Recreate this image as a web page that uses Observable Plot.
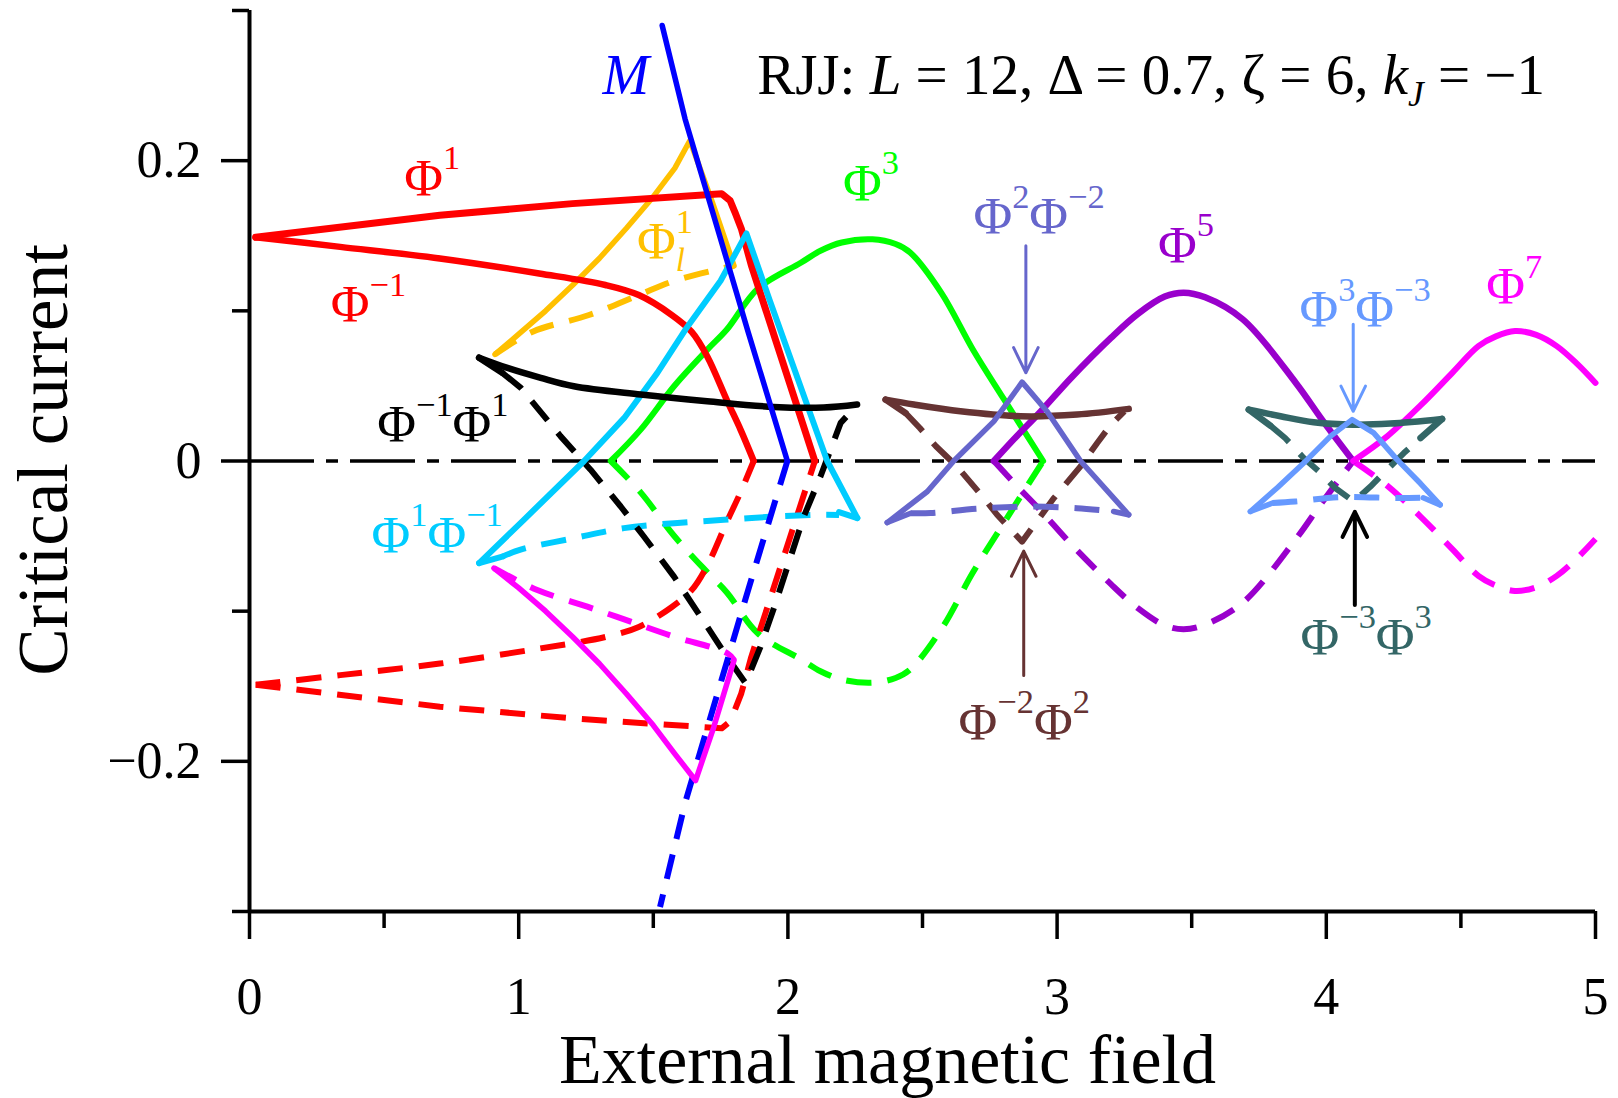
<!DOCTYPE html>
<html>
<head>
<meta charset="utf-8">
<script src="https://cdn.jsdelivr.net/npm/d3@7"></script>
<script src="https://cdn.jsdelivr.net/npm/@observablehq/plot@0.6"></script>
<style>
  html, body { margin: 0; padding: 0; background: #fff; }
  #chart svg { display: block; font-family: "Liberation Serif", "Times New Roman", serif; }
  #chart svg text { font-family: "Liberation Serif", "Times New Roman", serif; }
</style>
</head>
<body>
<div id="chart"></div>
<script>
// ---------------- data: [external field, critical current] ----------------
const phi1Solid   = [[0.023,0.149],[0.707,0.1636],[1.199,0.1714],[1.754,0.178],[1.785,0.1735],[1.803,0.1658],[1.827,0.1547],[1.864,0.1304],[2.10,0]];
const phi1Dashed  = [[0.023,-0.149],[0.707,-0.1636],[1.199,-0.1714],[1.754,-0.178],[1.785,-0.1735],[1.803,-0.1658],[1.827,-0.1547],[1.864,-0.1304],[2.10,0]];
const phiM1Solid  = [[0.023,0.149],[0.337,0.1426],[0.707,0.1349],[1.076,0.1249],[1.322,0.1172],[1.446,0.1105],[1.569,0.0972],[1.642,0.0861],[1.70,0.0698],[1.775,0.0398],[1.824,0.0209],[1.873,0]];
const phiM1Dashed = [[0.023,-0.149],[0.337,-0.1426],[0.707,-0.1349],[1.076,-0.1249],[1.322,-0.1172],[1.446,-0.1105],[1.569,-0.0972],[1.642,-0.0861],[1.70,-0.0698],[1.775,-0.0398],[1.824,-0.0209],[1.873,0]];

const phi1lSolid  = [[0.912,0.071],[1.0,0.0845],[1.1,0.100],[1.2,0.117],[1.3,0.135],[1.4,0.155],[1.5,0.176],[1.58,0.195],[1.636,0.2134],[1.72,0.172],[1.80,0.130]];
const phi1lDashed = [[0.912,0.071],[1.052,0.0861],[1.261,0.0972],[1.446,0.1105],[1.569,0.1194],[1.729,0.1271],[1.80,0.130]];
const magLowSolid  = [[0.908,-0.0714],[1.0,-0.0845],[1.1,-0.100],[1.2,-0.117],[1.3,-0.135],[1.4,-0.155],[1.5,-0.176],[1.58,-0.195],[1.657,-0.2128],[1.725,-0.177],[1.80,-0.1326]];
const magLowDashed = [[0.908,-0.0714],[1.069,-0.0859],[1.255,-0.097],[1.416,-0.107],[1.577,-0.117],[1.775,-0.128],[1.80,-0.1326]];

const mSolid  = [[1.533,0.290],[1.618,0.2278],[1.852,0.0861],[1.998,0]];
const mDashed = [[1.998,0],[1.852,-0.0861],[1.618,-0.2278],[1.525,-0.297]];

const phi3Solid  = [[1.342,0],[1.453,0.0209],[1.577,0.0498],[1.70,0.074],[1.774,0.0877],[1.889,0.1149],[2.048,0.132],[2.121,0.140],[2.20,0.1455],[2.314,0.1476],[2.40,0.1445],[2.454,0.1389],[2.57,0.112],[2.687,0.0743],[2.803,0.041],[2.948,0]];
const phi3Dashed = [[1.342,0],[1.453,-0.0209],[1.577,-0.0498],[1.70,-0.074],[1.774,-0.0877],[1.889,-0.1149],[2.048,-0.132],[2.121,-0.140],[2.20,-0.1455],[2.314,-0.1476],[2.40,-0.1445],[2.454,-0.1389],[2.57,-0.112],[2.687,-0.0743],[2.803,-0.041],[2.948,0]];

const phi5Solid  = [[2.765,0],[2.85,0.0165],[2.939,0.033],[3.05,0.055],[3.2,0.082],[3.3,0.098],[3.4,0.1095],[3.47,0.1121],[3.55,0.109],[3.69,0.0943],[3.887,0.052],[3.984,0.0276],[4.1,0]];
const phi5Dashed = [[2.765,0],[2.85,-0.0165],[2.939,-0.033],[3.05,-0.055],[3.2,-0.082],[3.3,-0.098],[3.4,-0.1095],[3.47,-0.1121],[3.55,-0.109],[3.69,-0.0943],[3.887,-0.052],[3.984,-0.0276],[4.1,0]];

const phi7Solid  = [[4.1,0],[4.226,0.0164],[4.35,0.037],[4.468,0.0587],[4.565,0.0765],[4.63,0.083],[4.701,0.0865],[4.78,0.084],[4.856,0.0765],[4.93,0.065],[5.0,0.052]];
const phi7Dashed = [[4.1,0],[4.226,-0.0164],[4.35,-0.037],[4.468,-0.0587],[4.565,-0.0765],[4.63,-0.083],[4.701,-0.0865],[4.78,-0.084],[4.856,-0.0765],[4.93,-0.065],[5.0,-0.052]];

const p1m1Solid  = [[0.853,-0.068],[1.02,-0.039],[1.243,0],[1.392,0.0287],[1.515,0.0587],[1.62,0.0877],[1.75,0.120],[1.846,0.1515],[1.931,0.1077],[2.146,0],[2.258,-0.038]];
const p1m1Dashed = [[0.939,-0.0637],[1.007,-0.059],[1.205,-0.0514],[1.391,-0.0447],[1.577,-0.0414],[1.762,-0.0392],[1.948,-0.037],[2.134,-0.0358],[2.19,-0.036]];
const p1m1Barbs  = [[[0.939,-0.0637],[0.853,-0.068]],[[2.258,-0.038],[2.19,-0.034]]];

const m1p1Solid  = [[0.853,0.0688],[0.958,0.062],[1.082,0.0554],[1.205,0.0498],[1.453,0.0443],[1.70,0.0398],[1.947,0.036],[2.133,0.0356],[2.257,0.0376]];
const m1p1Dashed = [[0.939,0.0587],[1.008,0.0487],[1.156,0.0164],[1.267,-0.0058],[1.379,-0.0303],[1.465,-0.0503],[1.577,-0.077],[1.676,-0.1037],[1.776,-0.131],[1.843,-0.148],[1.898,-0.1237],[1.954,-0.0948],[2.059,-0.037],[2.121,-0.0103],[2.196,0.0254],[2.23,0.032]];
const m1p1Barbs  = [[[0.939,0.0587],[0.853,0.0688]]];

const m2p2Solid  = [[2.363,0.0409],[2.468,0.0376],[2.641,0.0331],[2.864,0.0298],[3.074,0.0309],[3.266,0.0347]];
const m2p2Dashed = [[2.437,0.032],[2.49,0.022],[2.55,0.0098],[2.628,-0.0036],[2.728,-0.0247],[2.777,-0.0358],[2.87,-0.0537],[2.938,-0.037],[2.988,-0.0247],[3.087,-0.0036],[3.149,0.012],[3.20,0.0242],[3.25,0.033]];
const m2p2Barbs  = [[[2.437,0.032],[2.363,0.0409]]];

const p2m2Solid  = [[2.369,-0.041],[2.518,-0.0203],[2.616,0],[2.765,0.0264],[2.87,0.0525],[2.963,0.033],[3.087,0],[3.266,-0.0358]];
const p2m2Dashed = [[2.456,-0.0348],[2.53,-0.0347],[2.70,-0.0318],[2.889,-0.0303],[3.074,-0.0314],[3.21,-0.0336]];
const p2m2Barbs  = [[[2.456,-0.0348],[2.369,-0.041]],[[3.266,-0.0358],[3.21,-0.0336]]];

const m3p3Solid  = [[3.712,0.0342],[3.83,0.0298],[3.953,0.0258],[4.102,0.0242],[4.238,0.0249],[4.43,0.028]];
const m3p3Dashed = [[3.792,0.0236],[3.847,0.0153],[3.916,0.002],[3.972,-0.0069],[4.033,-0.018],[4.102,-0.027],[4.164,-0.017],[4.226,-0.0058],[4.288,0.0053],[4.35,0.0153]];
const m3p3Barbs  = [[[3.792,0.0236],[3.712,0.0342]],[[4.43,0.028],[4.35,0.0153]]];

const p3m3Solid  = [[3.718,-0.0336],[3.82,-0.0175],[3.929,0.0009],[4.015,0.0164],[4.096,0.0276],[4.176,0.0187],[4.263,0.0009],[4.35,-0.015],[4.423,-0.0292]];
const p3m3Dashed = [[3.80,-0.028],[3.885,-0.027],[4.052,-0.024],[4.263,-0.0247],[4.36,-0.0245]];
const p3m3Barbs  = [[[3.80,-0.028],[3.718,-0.0336]],[[4.423,-0.0292],[4.36,-0.0245]]];

// axis ticks
const xMajor = [0, 1, 2, 3, 4, 5];
const xMinor = [0.5, 1.5, 2.5, 3.5, 4.5];
const yMajor = [-0.2, 0, 0.2];
const yMajorLabels = ["\u22120.2", "0", "0.2"];
const yMinor = [-0.3, -0.1, 0.1, 0.3];

// curve labels (markup: ^{} superscript, _{} subscript, *...* italic)
const labelText = ["Φ^{1}", "Φ^{−1}", "Φ^{1}_{l}", "Φ^{3}", "Φ^{2}Φ^{−2}", "Φ^{5}", "Φ^{7}", "Φ^{3}Φ^{−3}", "Φ^{−1}Φ^{1}", "Φ^{1}Φ^{−1}", "Φ^{−2}Φ^{2}", "Φ^{−3}Φ^{3}"];
const labelX    = [0.679, 0.442, 1.543, 2.309, 2.933, 3.479, 4.698, 4.144, 0.7185, 0.697, 2.878, 4.148];
const labelY    = [0.188, 0.1037, 0.1457, 0.1846, 0.1623, 0.1433, 0.1158, 0.1003, 0.0238, -0.0499, -0.1742, -0.1178];

const annotText = ["RJJ: *L* = 12, Δ = 0.7, ζ = 6, *k*_{J} = −1"];
const annotX = [3.349];
const annotY = [0.2566];
const mText = ["M"];
const mX = [1.398];
const mY = [0.2566];

// pointer arrows
const arrowX     = [2.884, 4.100, 2.876, 4.106];
const arrowFromY = [0.1433, 0.091, -0.1428, -0.0959];
const arrowToY   = [0.0587, 0.0331, -0.060, -0.0338];

// ---------------- styling ----------------
const FONT = "'Liberation Serif', 'Times New Roman', serif";
const C = {
  red: "#ff0000", orange: "#ffc000", blue: "#0000ff", green: "#00ff00", purple: "#9900cc",
  magenta: "#ff00ff", cyan: "#00ccff", black: "#000000", brown: "#663333",
  slateBlue: "#6666cc", lightBlue: "#6699ff", darkSlate: "#336666"
};
const labelColor = [C.red, C.red, C.orange, C.green, C.slateBlue, C.purple, C.magenta, C.lightBlue, C.black, C.cyan, C.brown, C.darkSlate];
const arrowColor = [C.slateBlue, C.lightBlue, C.brown, C.black];
const arrowWidth = [3, 3, 3, 4];

const DASH = "25,16";
const series = [
  {pts: phi3Dashed, color: C.green, dashed: true, curve: "catmull-rom"},
  {pts: phi5Dashed, color: C.purple, dashed: true, curve: "catmull-rom"},
  {pts: phi7Dashed, color: C.magenta, dashed: true, curve: "catmull-rom"},
  {pts: phi1Dashed, color: C.red, dashed: true},
  {pts: phiM1Dashed, color: C.red, dashed: true, curve: "catmull-rom"},
  {pts: phi1lDashed, color: C.orange, dashed: true, curve: "catmull-rom"},
  {pts: magLowDashed, color: C.magenta, dashed: true, curve: "catmull-rom"},
  {pts: p1m1Dashed, color: C.cyan, dashed: true, curve: "catmull-rom"},
  {pts: m1p1Dashed, color: C.black, dashed: true},
  {pts: mDashed, color: C.blue, dashed: true},
  {pts: m2p2Dashed, color: C.brown, dashed: true},
  {pts: p2m2Dashed, color: C.slateBlue, dashed: true, curve: "catmull-rom"},
  {pts: m3p3Dashed, color: C.darkSlate, dashed: true},
  {pts: p3m3Dashed, color: C.lightBlue, dashed: true, curve: "catmull-rom"},

  {pts: phi3Solid, color: C.green, curve: "catmull-rom"},
  {pts: phi5Solid, color: C.purple, curve: "catmull-rom", w: 6.5},
  {pts: phi7Solid, color: C.magenta, curve: "catmull-rom"},
  {pts: phi1lSolid, color: C.orange, w: 5.5},
  {pts: magLowSolid, color: C.magenta, w: 5.5},
  {pts: phiM1Solid, color: C.red, curve: "catmull-rom", w: 6.5},
  {pts: phi1Solid, color: C.red, w: 7},
  {pts: p1m1Solid, color: C.cyan, barbs: p1m1Barbs},
  {pts: m1p1Solid, color: C.black, curve: "catmull-rom", w: 6.5, barbs: m1p1Barbs},
  {pts: mSolid, color: C.blue, w: 5.5},
  {pts: m2p2Solid, color: C.brown, curve: "catmull-rom", w: 6.5, barbs: m2p2Barbs},
  {pts: p2m2Solid, color: C.slateBlue, w: 5.5, barbs: p2m2Barbs},
  {pts: m3p3Solid, color: C.darkSlate, curve: "catmull-rom", w: 6.5, barbs: m3p3Barbs},
  {pts: p3m3Solid, color: C.lightBlue, w: 5.5, barbs: p3m3Barbs}
];

const px = d => d[0], py = d => d[1];
const curveMarks = [];
for (const s of series) {
  const w = s.w ?? 6;
  curveMarks.push(Plot.line(s.pts, {
    x: px, y: py, stroke: s.color, strokeWidth: w,
    strokeDasharray: s.dashed ? DASH : undefined,
    strokeLinecap: s.dashed ? "butt" : "round", strokeLinejoin: "round",
    curve: s.curve ?? "linear"
  }));
  if (s.barbs) for (const b of s.barbs) {
    curveMarks.push(Plot.line(b, {x: px, y: py, stroke: s.color, strokeWidth: w, strokeLinecap: "round"}));
  }
}

const arrowMarks = arrowX.map((ax, i) => Plot.arrow([i], {
  x1: () => ax, x2: () => ax, y1: () => arrowFromY[i], y2: () => arrowToY[i],
  stroke: arrowColor[i], strokeWidth: arrowWidth[i], headLength: 14 * 3 / arrowWidth[i], headAngle: 52
}));

const labelMarks = labelText.map((t, i) => Plot.text([t], {
  x: () => labelX[i], y: () => labelY[i], text: d => d, fill: labelColor[i],
  fontSize: 53, fontFamily: FONT, textAnchor: "middle", lineAnchor: "middle"
}));

const chart = Plot.plot({
  width: 1618,
  height: 1098,
  marginLeft: 249,
  marginRight: 23,
  marginTop: 10,
  marginBottom: 187,
  x: {domain: [0, 5], label: null},
  y: {domain: [-0.3, 0.3], label: null},
  style: {fontFamily: FONT, fontSize: "52px", color: "black", background: "white"},
  marks: [
    Plot.ruleY([0], {strokeWidth: 3.5, strokeDasharray: "65,12,12,12"}),
    ...curveMarks,
    ...arrowMarks,
    Plot.ruleX([0], {strokeWidth: 4}),
    Plot.ruleY([-0.3], {strokeWidth: 4}),
    Plot.axisX({ticks: xMajor, tickSize: 28, tickPadding: 38, tickFormat: d => String(d), strokeWidth: 3.5, fontSize: 52, fontFamily: FONT, label: null}),
    Plot.axisX({ticks: xMinor, tickSize: 17, tickFormat: () => "", strokeWidth: 3.5, label: null}),
    Plot.axisY({ticks: yMajor, tickSize: 28, tickPadding: 20, tickFormat: d => yMajorLabels[yMajor.indexOf(d)], strokeWidth: 3.5, fontSize: 52, fontFamily: FONT, label: null}),
    Plot.axisY({ticks: yMinor, tickSize: 17, tickFormat: () => "", strokeWidth: 3.5, label: null}),
    ...labelMarks,
    Plot.text(annotText, {x: () => annotX[0], y: () => annotY[0], text: d => d, fontSize: 57, fontFamily: FONT, textAnchor: "middle", lineAnchor: "middle", fill: "black"}),
    Plot.text(mText, {x: () => mX[0], y: () => mY[0], text: d => d, fontSize: 56, fontFamily: FONT, fontStyle: "italic", textAnchor: "middle", lineAnchor: "middle", fill: C.blue}),
    Plot.text(["External magnetic field"], {frameAnchor: "bottom", textAnchor: "middle", dx: -35, dy: 149, fontSize: 70, fontFamily: FONT, lineAnchor: "middle", fill: "black"}),
    Plot.text(["Critical current"], {frameAnchor: "left", textAnchor: "middle", rotate: -90, dx: -205, dy: -1, fontSize: 71, fontFamily: FONT, lineAnchor: "middle", fill: "black"})
  ]
});

document.getElementById("chart").appendChild(chart);

// turn ^{..}, _{..}, *..* markup into tspans (superscripts, subscripts, italics)
function richify(svg) {
  const NS = "http://www.w3.org/2000/svg";
  for (const t of svg.querySelectorAll("text")) {
    const s = t.textContent;
    if (!/\^\{|_\{|\*/.test(s)) continue;
    const F = parseFloat(getComputedStyle(t).fontSize) || 50;
    const tokens = s.match(/\^\{[^}]*\}|_\{[^}]*\}|\*[^*]*\*|[^\^_*]+/g) || [s];
    while (t.firstChild) t.removeChild(t.firstChild);
    let shift = 0, lastSup = null;
    for (const tok of tokens) {
      const ts = document.createElementNS(NS, "tspan");
      let content = tok, target = 0, size = null, italic = false, dx = 0, isSup = false;
      if (tok.startsWith("^{")) { content = tok.slice(2, -1); target = -0.5 * F; size = 0.65 * F; isSup = true; }
      else if (tok.startsWith("_{")) {
        content = tok.slice(2, -1); target = 0.22 * F; size = 0.62 * F; italic = true;
        if (lastSup) dx = -lastSup.getComputedTextLength();
      }
      else if (tok.startsWith("*")) { content = tok.slice(1, -1); italic = true; }
      if (target !== shift) ts.setAttribute("dy", (target - shift).toFixed(2));
      shift = target;
      if (size) ts.setAttribute("font-size", size.toFixed(2));
      if (italic) ts.setAttribute("font-style", "italic");
      if (dx) ts.setAttribute("dx", dx.toFixed(2));
      ts.textContent = content;
      t.appendChild(ts);
      lastSup = isSup ? ts : null;
    }
  }
}
richify(chart);
</script>
</body>
</html>
